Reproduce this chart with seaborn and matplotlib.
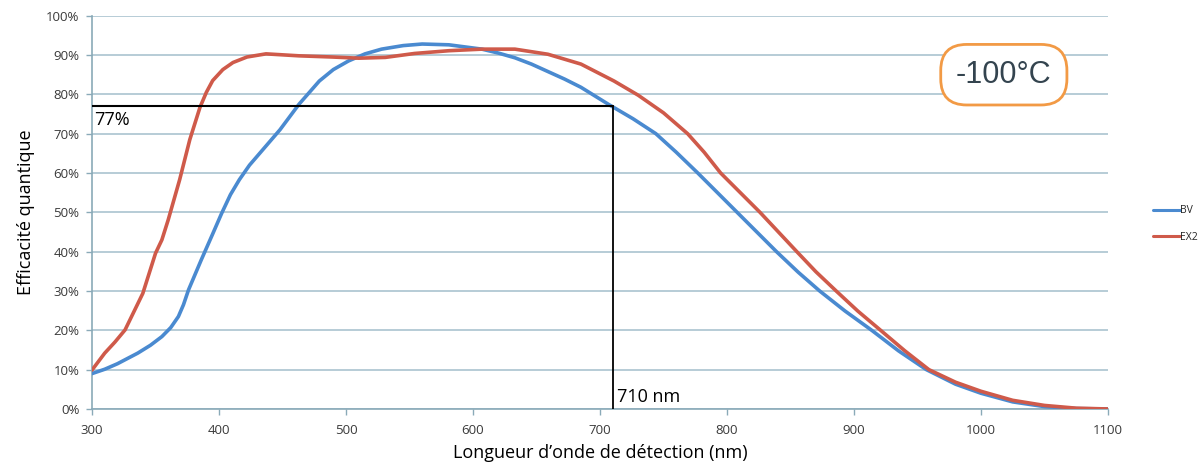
import matplotlib
matplotlib.use("Agg")
import matplotlib.pyplot as plt
import seaborn as sns
import pandas as pd

# ---- data ----
bv_nm = [300, 310, 320, 336, 346, 355, 362, 368, 372, 376, 386, 395, 402, 409,
         416, 424, 432, 440, 448, 463, 479, 490, 502, 515, 528, 545, 560, 581,
         607, 620, 633, 646, 659, 672, 685, 707, 726, 744, 760, 777, 808, 839,
         856, 873, 893, 914, 935, 957, 980, 1000, 1025, 1050, 1075, 1100]
bv_qe = [9.0, 10.1, 11.5, 14.2, 16.2, 18.4, 20.7, 23.5, 26.5, 30.3, 37.9, 44.5,
         49.7, 54.5, 58.3, 62.0, 65.0, 68.0, 71.0, 77.5, 83.4, 86.3, 88.5, 90.3,
         91.5, 92.4, 92.8, 92.6, 91.5, 90.5, 89.3, 87.7, 85.8, 83.9, 81.8, 77.4,
         73.8, 70.0, 65.3, 60.0, 50.0, 40.0, 34.8, 30.0, 24.9, 20.0, 14.8, 10.0,
         6.3, 4.0, 1.8, 0.6, 0.1, 0.0]

ex2_nm = [300, 310, 318, 326, 340, 350, 355, 360, 369, 377, 385, 390, 395, 403,
          411, 422, 437, 463, 489, 510, 531, 554, 581, 607, 633, 659, 685, 711,
          730, 750, 769, 782, 795, 826, 855, 870, 886, 903, 921, 940, 959, 980,
          1000, 1025, 1050, 1075, 1100]
ex2_qe = [9.9, 14.2, 17.0, 20.1, 29.4, 39.6, 43.0, 48.1, 58.3, 68.5, 76.7, 80.5,
          83.5, 86.3, 88.1, 89.5, 90.3, 89.8, 89.5, 89.2, 89.4, 90.4, 91.1, 91.5,
          91.5, 90.2, 87.7, 83.4, 79.8, 75.3, 70.0, 65.3, 60.0, 50.0, 40.0, 34.9,
          30.0, 24.9, 20.0, 14.8, 10.0, 6.8, 4.5, 2.2, 0.9, 0.2, 0.0]

series_names = ["BV", "EX2"]
x_ticks = [300, 400, 500, 600, 700, 800, 900, 1000, 1100]
y_ticks = [0, 10, 20, 30, 40, 50, 60, 70, 80, 90, 100]
marker_nm = 710
marker_qe = 77
temp_label = "-100°C"

df = pd.concat([
    pd.DataFrame({"nm": bv_nm, "qe": bv_qe, "série": series_names[0]}),
    pd.DataFrame({"nm": ex2_nm, "qe": ex2_qe, "série": series_names[1]}),
], ignore_index=True)

sns.set_theme(style="white")
plt.rcParams["font.family"] = ["Open Sans", "DejaVu Sans"]

fig = plt.figure(figsize=(12.03, 4.69), dpi=100)
ax = fig.add_axes([0.0765, 0.128, 0.8445, 0.8385])

grid_color = "#a3bfcc"
for yv in y_ticks:
    ax.axhline(yv, color=grid_color, lw=1.1, zorder=0)

sns.lineplot(data=df, x="nm", y="qe", hue="série", estimator=None, sort=True,
             palette={"BV": "#4a8ad0", "EX2": "#cf5a4a"}, linewidth=2.6, ax=ax,
             zorder=3)
for ln in ax.get_lines():
    ln.set_solid_joinstyle("round")
    ln.set_solid_capstyle("round")

# marker lines
ax.plot([300, marker_nm], [marker_qe, marker_qe], color="black", lw=1.5, zorder=4)
ax.plot([marker_nm, marker_nm], [0, marker_qe], color="black", lw=1.3, zorder=4)
ax.text(302, marker_qe - 1.2, f"{marker_qe}%", fontsize=13, va="top", ha="left",
        color="black", zorder=5)
ax.text(marker_nm + 3, 0.8, f"{marker_nm} nm", fontsize=13, va="bottom",
        ha="left", color="black", zorder=5)

# temperature box
ax.text(1018, 85.0, temp_label, fontsize=22, color="#34444f", ha="center",
        va="center", zorder=6, family=["Liberation Sans", "DejaVu Sans"],
        bbox=dict(boxstyle="round,pad=0.5,rounding_size=0.85", fc="white",
                  ec="#f29a45", lw=2.0))

ax.set_xlim(300, 1100)
ax.set_ylim(0, 100)
ax.set_xticks(x_ticks)
ax.set_yticks(y_ticks)
ax.set_yticklabels([f"{v}%" for v in y_ticks])
ax.tick_params(axis="both", which="both", labelsize=9.5, colors="#8aaab8",
               labelcolor="#3a3a3a", length=4, width=1, direction="out",
               left=True, bottom=True)
ax.tick_params(axis="x", pad=7)
ax.tick_params(axis="y", pad=5)

for s in ["top", "right"]:
    ax.spines[s].set_visible(False)
for s in ["left", "bottom"]:
    ax.spines[s].set_color("#8aaab8")
    ax.spines[s].set_linewidth(1.2)

ax.set_xlabel("Longueur d’onde de détection (nm)", fontsize=13, color="black",
              labelpad=5)
ax.set_ylabel("Efficacité quantique", fontsize=13, color="black", labelpad=8)

leg = ax.legend(title=None, loc="center left", bbox_to_anchor=(1.035, 0.47),
                frameon=False, fontsize=7.5, handlelength=2.6,
                handletextpad=0.05, labelspacing=1.5)
for line in leg.get_lines():
    line.set_linewidth(2.2)

fig.savefig("out.png", dpi=100, facecolor="white")
